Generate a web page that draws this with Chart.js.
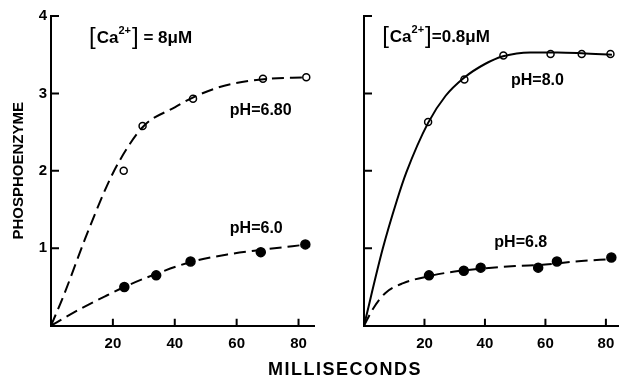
<!DOCTYPE html>
<html lang="en">
<head>
<meta charset="UTF-8">
<title>Phosphoenzyme vs time</title>
<script src="https://cdn.jsdelivr.net/npm/chart.js"></script>
<style>
    body { margin: 0; background: #fff; }
    #wrap { position: relative; width: 624px; height: 377px; overflow: hidden; }
    #leftChart { position: absolute; left: 0; top: 0; }
    #rightChart { position: absolute; left: 320px; top: 0; }
    #xTitle {
        position: absolute; left: 245px; width: 200px; top: 359px;
        text-align: center; line-height: 1;
        font: bold 18px 'Liberation Sans', Arial, sans-serif;
        letter-spacing: 1.5px; color: #000;
    }
</style>
</head>
<body>
<div id="wrap">
    <canvas id="leftChart" width="320" height="377"></canvas>
    <canvas id="rightChart" width="304" height="377"></canvas>
    <div id="xTitle">MILLISECONDS</div>
</div>

<script>
// tick values shared by both panels
const xTickValues = [20, 40, 60, 80];
const yTickValues = [1, 2, 3, 4];

// left panel, [Ca2+] = 8 uM
const leftHighX = [23.5, 29.6, 45.9, 68.5, 82.5];          // pH 6.80, open circles
const leftHighY = [2.0, 2.58, 2.93, 3.19, 3.21];
const leftHighFitX = [0, 4, 11, 18, 22, 30, 40, 46, 56, 68, 83];
const leftHighFitY = [0, 0.38, 1.12, 1.8, 2.12, 2.58, 2.82, 2.95, 3.1, 3.18, 3.21];
const leftLowX = [23.7, 34.0, 45.1, 67.8, 82.2];           // pH 6.0, filled circles
const leftLowY = [0.50, 0.65, 0.83, 0.95, 1.05];
const leftLowFitX = [0, 6, 12, 18, 23.7, 34, 45, 57, 68, 83];
const leftLowFitY = [0, 0.14, 0.27, 0.39, 0.5, 0.67, 0.82, 0.92, 0.98, 1.05];

// right panel, [Ca2+] = 0.8 uM
const rightHighX = [21.2, 33.2, 46.1, 61.7, 72.0, 81.5];   // pH 8.0, open circles
const rightHighY = [2.63, 3.18, 3.49, 3.51, 3.51, 3.51];
const rightHighFitX = [0, 6.1, 10.9, 14, 21.2, 27, 33, 40, 46, 55, 64, 72, 82];
const rightHighFitY = [0, 0.98, 1.62, 1.98, 2.62, 2.97, 3.2, 3.38, 3.48, 3.53, 3.53, 3.52, 3.5];
const rightLowX = [21.5, 33.0, 38.6, 57.6, 63.8, 81.8];    // pH 6.8, filled circles
const rightLowY = [0.65, 0.71, 0.75, 0.75, 0.83, 0.88];
const rightLowFitX = [0, 3, 7, 13, 21.5, 30, 40, 50, 60, 70, 82];
const rightLowFitY = [0, 0.22, 0.42, 0.55, 0.64, 0.7, 0.74, 0.77, 0.79, 0.83, 0.86];

const FONT = "'Liberation Sans', Arial, sans-serif";

function pairs(xs, ys) {
    return xs.map((x, i) => ({ x: x, y: ys[i] }));
}

function fitSet(xs, ys, dashed) {
    return {
        data: pairs(xs, ys),
        showLine: true,
        borderColor: '#000',
        borderWidth: 2,
        borderDash: dashed ? [12, 6] : [],
        pointRadius: 0,
        cubicInterpolationMode: 'monotone',
        clip: false
    };
}

function markSet(xs, ys, filled) {
    return {
        data: pairs(xs, ys),
        showLine: false,
        pointRadius: filled ? 4.5 : 3.5,
        pointBackgroundColor: filled ? '#000' : '#fff',
        pointBorderColor: '#000',
        pointBorderWidth: 1.5,
        clip: false
    };
}

function drawConc(ctx, px, py, value, spaced) {
    ctx.textBaseline = 'middle';
    ctx.textAlign = 'left';
    ctx.font = '24px ' + FONT;
    ctx.fillText('[', px, py);
    px += ctx.measureText('[').width + 1;
    ctx.font = 'bold 17px ' + FONT;
    ctx.fillText('Ca', px, py + 1);
    px += ctx.measureText('Ca').width;
    ctx.font = 'bold 11px ' + FONT;
    ctx.fillText('2+', px, py - 6);
    px += ctx.measureText('2+').width + 1;
    ctx.font = '24px ' + FONT;
    ctx.fillText(']', px, py);
    px += ctx.measureText(']').width;
    ctx.font = 'bold 17px ' + FONT;
    ctx.fillText((spaced ? ' = ' : '=') + value + '\u03BCM', px, py + 1);
}

// inward ticks and in-plot labels
const axisMarks = {
    id: 'axisMarks',
    afterDraw(chart, args, opts) {
        const ctx = chart.ctx;
        const xs = chart.scales.x, ys = chart.scales.y;
        const area = chart.chartArea;
        ctx.save();
        ctx.strokeStyle = '#000';
        ctx.lineWidth = 2;
        ctx.beginPath();
        xTickValues.forEach(v => {
            const px = xs.getPixelForValue(v);
            ctx.moveTo(px, area.bottom);
            ctx.lineTo(px, area.bottom - 7);
        });
        yTickValues.forEach(v => {
            const py = ys.getPixelForValue(v);
            ctx.moveTo(area.left, py);
            ctx.lineTo(area.left + 8, py);
        });
        ctx.stroke();

        ctx.fillStyle = '#000';
        ctx.textBaseline = 'middle';
        ctx.textAlign = 'left';
        ctx.font = 'bold 16px ' + FONT;
        (opts.notes || []).forEach(n => {
            ctx.fillText(n.text, xs.getPixelForValue(n.x), ys.getPixelForValue(n.y));
        });
        if (opts.conc) {
            const c = opts.conc;
            drawConc(ctx, xs.getPixelForValue(c.x), ys.getPixelForValue(c.y), c.value, c.spaced);
        }
        ctx.restore();
    }
};

function makeChart(id, datasets, cfg) {
    return new Chart(document.getElementById(id), {
        type: 'scatter',
        data: { datasets: datasets },
        plugins: [axisMarks],
        options: {
            responsive: false,
            animation: false,
            events: [],
            layout: { padding: { top: 16, right: cfg.padRight, left: 0, bottom: 0 } },
            plugins: {
                legend: { display: false },
                tooltip: { enabled: false },
                axisMarks: { notes: cfg.notes, conc: cfg.conc }
            },
            scales: {
                x: {
                    type: 'linear',
                    min: 0,
                    max: cfg.xMax,
                    afterFit: s => { s.height = 51.3; },
                    afterBuildTicks: s => { s.ticks = xTickValues.map(v => ({ value: v })); },
                    grid: { display: false, drawTicks: false },
                    border: { display: true, color: '#000', width: 2 },
                    ticks: {
                        autoSkip: false,
                        maxRotation: 0,
                        padding: 9,
                        color: '#000',
                        font: { family: FONT, size: 15, weight: 'bold' }
                    }
                },
                y: {
                    min: 0,
                    max: 4,
                    afterFit: s => { s.width = cfg.yWidth; },
                    afterBuildTicks: s => { s.ticks = yTickValues.map(v => ({ value: v })); },
                    grid: { display: false, drawTicks: false },
                    border: { display: true, color: '#000', width: 2 },
                    title: {
                        display: cfg.yTitle,
                        text: 'PHOSPHOENZYME',
                        color: '#000',
                        font: { family: FONT, size: 15, weight: 'bold' },
                        padding: { top: 10, bottom: 0 }
                    },
                    ticks: {
                        display: cfg.yLabels,
                        autoSkip: false,
                        padding: 4,
                        color: '#000',
                        font: { family: FONT, size: 15, weight: 'bold' }
                    }
                }
            }
        }
    });
}

makeChart('leftChart', [
    fitSet(leftHighFitX, leftHighFitY, true),
    fitSet(leftLowFitX, leftLowFitY, true),
    markSet(leftHighX, leftHighY, false),
    markSet(leftLowX, leftLowY, true)
], {
    xMax: 85, padRight: 3.4, yWidth: 51, yTitle: true, yLabels: true,
    notes: [
        { x: 57.8, y: 2.78, text: 'pH=6.80' },
        { x: 57.8, y: 1.26, text: 'pH=6.0' }
    ],
    conc: { x: 12.3, y: 3.73, value: '8', spaced: true }
});

makeChart('rightChart', [
    fitSet(rightHighFitX, rightHighFitY, false),
    fitSet(rightLowFitX, rightLowFitY, true),
    markSet(rightHighX, rightHighY, false),
    markSet(rightLowX, rightLowY, true)
], {
    xMax: 84, padRight: 0, yWidth: 44, yTitle: false, yLabels: false,
    notes: [
        { x: 48.6, y: 3.17, text: 'pH=8.0' },
        { x: 43.1, y: 1.07, text: 'pH=6.8' }
    ],
    conc: { x: 6.0, y: 3.74, value: '0.8', spaced: false }
});
</script>
</body>
</html>
